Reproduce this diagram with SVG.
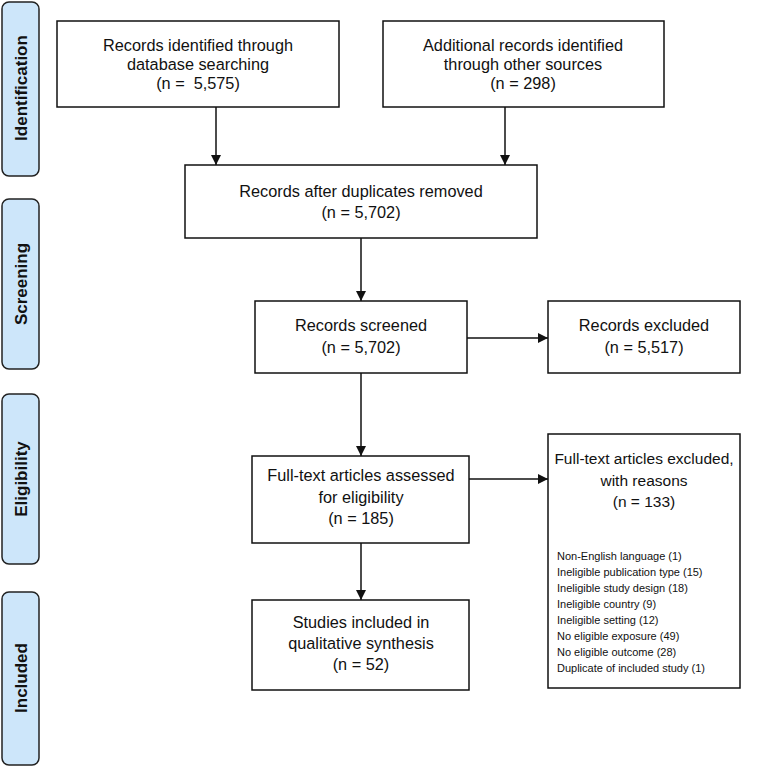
<svg xmlns="http://www.w3.org/2000/svg" width="767" height="768" viewBox="0 0 767 768">
<style>
  .bar { fill: #cde6fa; stroke: #222; stroke-width: 1.5; }
  .box { fill: #fff; stroke: #111; stroke-width: 1.5; }
  .bt { font-family: "Liberation Sans", Arial, sans-serif; font-weight: bold; font-size: 17px; fill: #111; text-anchor: middle; }
  .t { font-family: "Liberation Sans", Arial, sans-serif; font-size: 16.3px; fill: #111; text-anchor: middle; }
  .tt { font-family: "Liberation Sans", Arial, sans-serif; font-size: 15.5px; fill: #111; text-anchor: middle; }
  .r { font-family: "Liberation Sans", Arial, sans-serif; font-size: 11px; fill: #111; }
  .c { stroke: #111; stroke-width: 1.5; fill: none; marker-end: url(#ah); }
</style>
<defs>
  <marker id="ah" markerUnits="userSpaceOnUse" markerWidth="11" markerHeight="11" refX="10" refY="5" orient="auto">
    <path d="M0,0 L10,5 L0,10 z" fill="#111"/>
  </marker>
</defs>
<rect width="767" height="768" fill="#fff"/>
<g id="phase-identification"><rect class="bar" x="2" y="2" width="37" height="174" rx="7"/><text class="bt" transform="translate(27,88) rotate(-90)">Identification</text></g>
<g id="phase-screening"><rect class="bar" x="2" y="199" width="37" height="170" rx="7"/><text class="bt" transform="translate(27,284) rotate(-90)">Screening</text></g>
<g id="phase-eligibility"><rect class="bar" x="2" y="394" width="37" height="170" rx="7"/><text class="bt" transform="translate(27,479) rotate(-90)">Eligibility</text></g>
<g id="phase-included"><rect class="bar" x="2" y="592" width="37" height="173" rx="7"/><text class="bt" transform="translate(27,678) rotate(-90)">Included</text></g>

<g id="connectors">
  <line class="c" x1="216" y1="107" x2="216" y2="165"/>
  <line class="c" x1="505" y1="107" x2="505" y2="165"/>
  <line class="c" x1="361" y1="238" x2="361" y2="301"/>
  <line class="c" x1="467" y1="338" x2="548" y2="338"/>
  <line class="c" x1="361" y1="373" x2="361" y2="456"/>
  <line class="c" x1="469" y1="479" x2="548" y2="479"/>
  <line class="c" x1="361" y1="543" x2="361" y2="600"/>
</g>

<g id="n-database"><rect class="box" x="57" y="21" width="282" height="86"/>
  <text class="t" x="198" y="51">Records identified through</text>
  <text class="t" x="198" y="70">database searching</text>
  <text class="t" x="198" y="89" xml:space="preserve">(n =  5,575)</text></g>
<g id="n-other"><rect class="box" x="383" y="21" width="281" height="86"/>
  <text class="t" x="523" y="51">Additional records identified</text>
  <text class="t" x="523" y="70">through other sources</text>
  <text class="t" x="523" y="89">(n = 298)</text></g>
<g id="n-dedup"><rect class="box" x="185" y="165" width="352" height="73"/>
  <text class="t" x="361" y="197">Records after duplicates removed</text>
  <text class="t" x="361" y="218">(n = 5,702)</text></g>
<g id="n-screened"><rect class="box" x="255" y="301" width="212" height="72"/>
  <text class="t" x="361" y="331">Records screened</text>
  <text class="t" x="361" y="353">(n = 5,702)</text></g>
<g id="n-excluded"><rect class="box" x="548" y="301" width="192" height="72"/>
  <text class="t" x="644" y="331">Records excluded</text>
  <text class="t" x="644" y="353">(n = 5,517)</text></g>
<g id="n-fulltext"><rect class="box" x="252" y="456" width="217" height="87"/>
  <text class="t" x="361" y="481">Full-text articles assessed</text>
  <text class="t" x="361" y="503">for eligibility</text>
  <text class="t" x="361" y="524">(n = 185)</text></g>
<g id="n-ftexcluded"><rect class="box" x="548" y="434" width="192" height="254"/>
  <text class="tt" x="644" y="464">Full-text articles excluded,</text>
  <text class="tt" x="644" y="486">with reasons</text>
  <text class="tt" x="644" y="507">(n = 133)</text>
  <text class="r" x="557" y="560">Non-English language (1)</text>
  <text class="r" x="557" y="576">Ineligible publication type (15)</text>
  <text class="r" x="557" y="592">Ineligible study design (18)</text>
  <text class="r" x="557" y="608">Ineligible country (9)</text>
  <text class="r" x="557" y="624">Ineligible setting (12)</text>
  <text class="r" x="557" y="640">No eligible exposure (49)</text>
  <text class="r" x="557" y="656">No eligible outcome (28)</text>
  <text class="r" x="557" y="672">Duplicate of included study (1)</text></g>
<g id="n-included"><rect class="box" x="252" y="600" width="217" height="90"/>
  <text class="t" x="361" y="628">Studies included in</text>
  <text class="t" x="361" y="649">qualitative synthesis</text>
  <text class="t" x="361" y="670">(n = 52)</text></g>
</svg>
